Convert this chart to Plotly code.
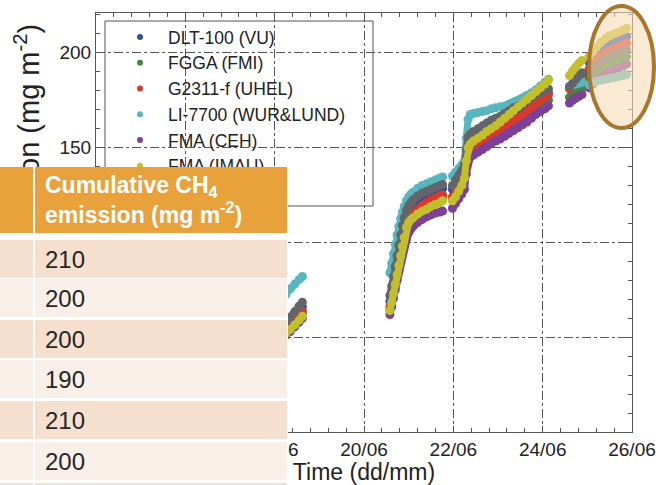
import plotly.graph_objects as go

# ---------------- data ----------------
x_tick_vals = [14, 16, 18, 20, 22, 24, 26]
x_tick_text = ["14/06", "16/06", "18/06", "20/06", "22/06", "24/06", "26/06"]
y_tick_vals = [0, 50, 100, 150, 200]

# time in day-of-June; None separates data gaps
time_days = [
    18.25, 18.35, 18.45, 18.55, 18.62, None,
    20.58, 20.62, 20.66, 20.70, 20.74, 20.78, 20.82, 20.86, 20.90, 20.95,
    21.00, 21.05, 21.10, 21.20, 21.30, 21.40, 21.50, 21.60, 21.70, 21.76, None,
    21.98, 22.05, 22.12, 22.19, 22.25, 22.29, 22.33, 22.38, 22.45, 22.55,
    22.65, 22.75, 22.85, 22.95, 23.05, 23.15, 23.25, 23.35, 23.45, 23.55,
    23.65, 23.75, 23.85, 23.95, 24.05, 24.13, None,
    24.60, 24.67, 24.74, 24.81, 24.88, None,
    25.04, 25.12, 25.20, 25.30, 25.40, 25.50, 25.60, 25.70, 25.80, 25.88,
]

dlt100_vu = [
    56, 58.5, 61.5, 64, 66, None,
    69, 74, 79, 84.5, 90, 95.5, 100.5, 105, 109, 113, 115.5, 117, 118.5, 120.5, 122.5, 124, 125.5, 126.5, 128, 128.5, None,
    128, 131, 133.5, 136, 139, 146, 153, 155, 156.5, 158, 159.5, 161, 162.5, 163.5, 164.5, 166, 167.5, 169, 170, 171.5, 173, 174, 175.5, 177, 178, 179, None,
    181.5, 183.5, 185.5, 187.5, 189, None,
    195, 197.5, 200, 202, 204, 205.5, 206.5, 207.5, 208, 208.5,
]
fgga_fmi = [
    53, 55.5, 58, 60.5, 62.5, None,
    64.5, 69.5, 74.5, 80, 85.5, 91, 96, 100.5, 104.5, 108, 110.5, 112, 113.5, 115.5, 117.5, 119, 120.5, 121.5, 122.5, 123, None,
    122.5, 125, 127.5, 130, 133, 140, 146, 147.5, 148.5, 150, 151.5, 153, 154.5, 156, 157.5, 159, 160.5, 162, 163.5, 165, 166.5, 168.5, 170.5, 172, 173.5, 175, None,
    176.5, 178, 179, 180.5, 181.5, None,
    186, 188, 190, 191.5, 193, 194.5, 195.5, 196.5, 197.5, 198,
]
g2311_uhel = [
    54.5, 57, 59.5, 62, 64, None,
    66, 71, 76, 81.5, 87, 92.5, 97.5, 102, 106, 110, 112.5, 114, 115.5, 117.5, 119.5, 121, 122.5, 123.5, 124.5, 125, None,
    124, 126.5, 129, 131.5, 135, 142, 148, 149.5, 150.5, 152, 153.5, 155, 156.5, 158, 159.5, 161, 162.5, 164, 165.5, 167, 169, 171, 173, 175, 176.5, 178, None,
    181, 183, 185, 187, 188.5, None,
    191.5, 193.5, 196, 198, 199.5, 201, 202, 203, 204, 205,
]
li7700_wur_lund = [
    72.5, 75.5, 78, 80.5, 82, None,
    84, 89, 94, 99, 104, 108.5, 112.5, 116, 119, 122, 124, 125.5, 126.5, 128.5, 130, 131, 132, 133, 134, 134.5, None,
    135, 137, 139, 141, 143, 155, 165, 167.5, 168, 168.5, 169, 169.5, 170.5, 171, 171.5, 172, 173, 174, 175, 176, 177.5, 179, 180.5, 182.5, 184.5, 186, None,
    182.5, 183, 183.5, 184, 184.5, None,
    183, 184.5, 185, 185.5, 186, 186.5, 187, 187.5, 188, 188.5,
]
fma_ceh = [
    51, 53, 55.5, 58, 60, None,
    62, 66, 70.5, 75, 80, 85, 89.5, 94, 98, 102, 105, 107, 108.5, 110.5, 112, 113.5, 114.5, 115.5, 116, 116.5, None,
    118, 120.5, 123, 125.5, 128, 136, 143, 145, 146, 147.5, 149, 150.5, 152, 153.5, 154.5, 156, 157.5, 159, 160.5, 162, 163.5, 165.5, 167.5, 169, 170.5, 172, None,
    173.5, 175, 176, 177, 178, None,
    181.5, 183.5, 185.5, 187, 188.5, 190, 191, 192, 193, 194,
]
fma_imau = [
    52, 54, 56.5, 59, 61, None,
    64, 68.5, 73, 78, 83, 88, 93, 98, 102.5, 108, 110.5, 112, 113, 115, 116.5, 117.5, 119, 120, 121, 122, None,
    122, 124, 127, 130, 134, 143, 150, 152, 153.5, 155, 156.5, 158.5, 160, 161.5, 163.5, 165.5, 167.5, 169.5, 171.5, 173.5, 175.5, 177.5, 179.5, 181.5, 183.5, 185.5, None,
    188, 190.5, 192.5, 194.5, 196, None,
    198, 200.5, 203, 205.5, 207.5, 209, 210, 211, 212, 213,
]
other_sensor = [
    58, 60.5, 63.5, 66.5, 68.5, None,
    72, 77, 82, 87.5, 93, 98.5, 104, 109, 113, 117, 119.5, 121, 122.5, 124.5, 126, 127, 128, 129, 130, 130.5, None,
    130, 133, 135.5, 138, 141, 149, 155.5, 157, 158.5, 160, 161.5, 163, 164.5, 165.5, 166.5, 168, 169.5, 171, 172, 173.5, 175, 176, 177.5, 179, 180, 181, None,
    182, 184, 186, 188, 189.5, None,
    188.5, 190.5, 193, 195, 196.5, 198, 199, 200, 201, 201.5,
]

series_names = ["DLT-100 (VU)", "FGGA (FMI)", "G2311-f (UHEL)", "LI-7700 (WUR&LUND)",
                "FMA (CEH)", "FMA (IMAU)", "QCL (other)"]
series_values = [dlt100_vu, fgga_fmi, g2311_uhel, li7700_wur_lund, fma_ceh, fma_imau, other_sensor]
series_colors = ["#2E4E9E", "#3E8A3A", "#D9392B", "#58B6BF", "#7E3F98", "#C3BE2C", "#62666B"]
draw_order = [0, 1, 2, 4, 3, 6, 5]

table_header = "<b>Cumulative CH<sub>4</sub><br>emission (mg m<sup>-2</sup>)</b>"
table_values = ["210", "200", "200", "190", "210", "200", ""]

# ---------------- layout geometry ----------------
W, H = 656, 485
ML, MR, MT, MB = 96, 24, 13, 53
PW = W - ML - MR
PH = H - MT - MB
FONT = "Liberation Sans, Arial, sans-serif"


def px(x):
    return (x - ML) / PW


def py(y):
    return (H - MB - y) / PH


fig = go.Figure()

for i in draw_order:
    fig.add_trace(go.Scatter(
        x=time_days, y=series_values[i], mode="lines+markers",
        line=dict(color=series_colors[i], width=7),
        marker=dict(color=series_colors[i], size=9),
        connectgaps=False, showlegend=False, hoverinfo="skip",
    ))

for name, color in zip(series_names, series_colors):
    fig.add_trace(go.Scatter(
        x=[None], y=[None], mode="markers", name=name,
        marker=dict(color=color, size=6), showlegend=True,
    ))

axis_common = dict(
    showline=True, linecolor="#555555", linewidth=1, mirror="ticks",
    ticks="inside", ticklen=6, tickcolor="#555555", tickwidth=1,
    showgrid=True, gridcolor="#555555", gridwidth=1, griddash="dashdot",
    zeroline=False, automargin=False,
    tickfont=dict(size=19, color="#222222", family=FONT),
)

fig.update_xaxes(
    range=[14, 26], tickvals=x_tick_vals, ticktext=x_tick_text,
    minor=dict(dtick=0.4, tick0=14, ticks="inside", ticklen=4, tickcolor="#555555", showgrid=False),
    title=dict(text="Time (dd/mm)", font=dict(size=23, color="#222222", family=FONT), standoff=5),
    **axis_common,
)
fig.update_yaxes(
    range=[0, 221], tickvals=y_tick_vals,
    minor=dict(dtick=10, tick0=0, ticks="inside", ticklen=4, tickcolor="#555555", showgrid=False),
    **axis_common,
)

shapes = [
    # legend frame
    dict(type="rect", xref="paper", yref="paper", x0=px(105), x1=px(373), y0=py(206), y1=py(21),
         line=dict(color="#555555", width=1), fillcolor="rgba(0,0,0,0)", layer="above"),
    # highlight ellipse fill
    dict(type="circle", xref="paper", yref="paper", x0=px(589), x1=px(654), y0=py(128), y1=py(6),
         line=dict(width=0), fillcolor="rgba(249,220,182,0.6)", layer="above"),
    # highlight ellipse outline
    dict(type="circle", xref="paper", yref="paper", x0=px(589), x1=px(654), y0=py(128), y1=py(6),
         line=dict(color="#A9772B", width=4), fillcolor="rgba(0,0,0,0)", layer="above"),
]

annotations = []
# y axis title (partly hidden by the table)
annotations.append(dict(
    xref="paper", yref="paper", x=px(28), y=py(24), xanchor="center", yanchor="top",
    text="Cumulative CH<sub>4</sub> emission (mg m<sup>-2</sup>)", textangle=-90, showarrow=False,
    font=dict(size=29, color="#222222", family=FONT), borderpad=0, borderwidth=0,
))


def box(x0, x1, y0, y1, color):
    return dict(xref="paper", yref="paper", x=px(x0), y=py(y0), xanchor="left", yanchor="top",
                width=x1 - x0, height=y1 - y0, borderpad=0, borderwidth=0, bgcolor=color,
                text=" ", showarrow=False)


def label(x0, yc, text, size, color):
    return dict(xref="paper", yref="paper", x=px(x0), y=py(yc), xanchor="left", yanchor="middle",
                text=text, showarrow=False, align="left", borderpad=0, borderwidth=0,
                font=dict(size=size, color=color, family=FONT))


# table overlay
annotations.append(box(0, 288, 167, H, "#FFFFFF"))
header_color = "#E9A23B"
row_colors = ["#F5E0CF", "#F9EFE9"]
annotations.append(box(0, 33, 167, 233, header_color))
annotations.append(box(35, 287, 167, 233, header_color))
row_tops = [240, 279, 320, 360, 401, 442, 483]
row_h = 38
for k, top in enumerate(row_tops):
    c = row_colors[k % 2]
    bottom = min(top + row_h, H)
    annotations.append(box(0, 33, top, bottom, c))
    annotations.append(box(35, 287, top, bottom, c))
annotations.append(label(45, 200, table_header, 23, "#FFFFFF"))
for k, top in enumerate(row_tops):
    if table_values[k]:
        annotations.append(label(45, top + row_h / 2, table_values[k], 24, "#262626"))

fig.update_layout(
    width=W, height=H, autosize=False,
    margin=dict(l=ML, r=MR, t=MT, b=MB, pad=0, autoexpand=False),
    paper_bgcolor="#FFFFFF", plot_bgcolor="#FFFFFF",
    font=dict(family=FONT, color="#222222"),
    showlegend=True,
    legend=dict(x=px(112), y=py(19), xanchor="left", yanchor="top",
                bgcolor="rgba(0,0,0,0)", borderwidth=0,
                font=dict(size=17.5, color="#222222", family=FONT), itemwidth=46),
    shapes=shapes, annotations=annotations,
)

fig.write_html(
    "out.html",
    config={"displayModeBar": False},
    post_script="document.body.style.margin='0';document.documentElement.style.overflow='hidden';",
)
